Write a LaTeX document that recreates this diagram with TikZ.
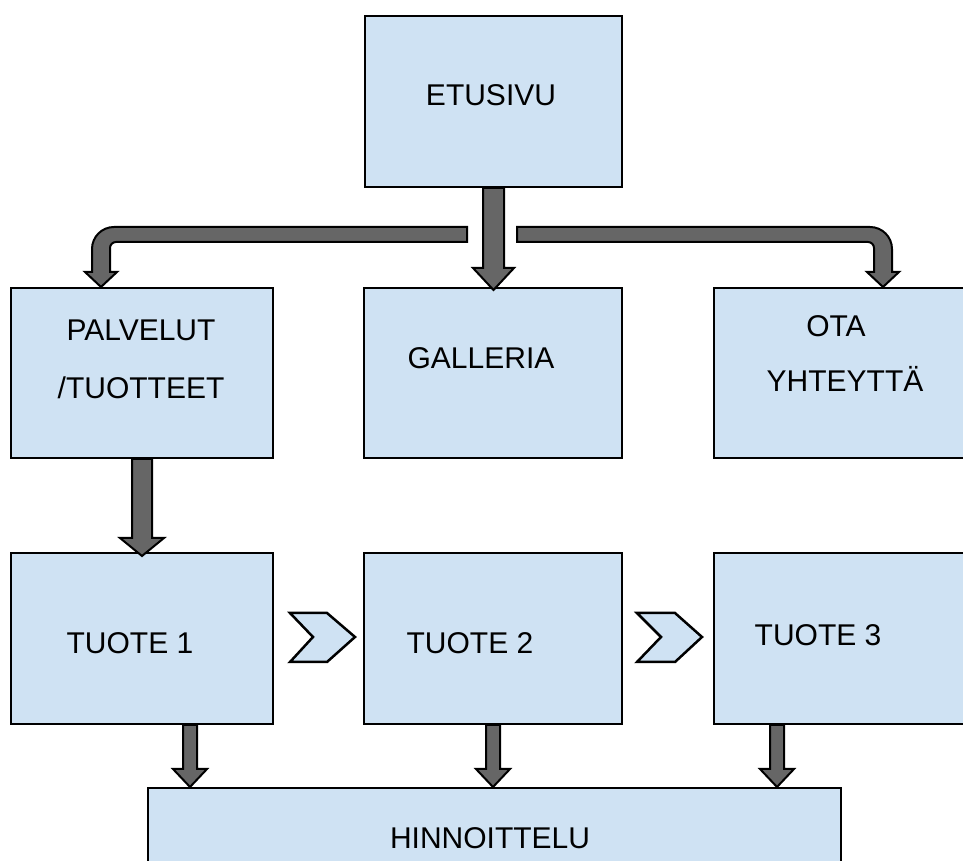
\documentclass[tikz,border=0pt]{standalone}
\usepackage{fontspec}
\setmainfont{Liberation Sans}
\usetikzlibrary{calc}
\definecolor{boxblue}{HTML}{CFE2F3}
\definecolor{arrowgray}{HTML}{666666}

% straight block arrow: #1 top point, #2 tip point, #3 half shaft width,
% #4 half head width, #5 head length, #6 how far the tip reaches past #2
\newcommand\blockDown[6]{%
  \draw[fatarrow] let \p1=(#1), \p2=(#2) in
    (\x1-#3,\y1) -- (\x1-#3,\y2-#6+#5) -- (\x1-#4,\y2-#6+#5) -- (\x1,\y2-#6)
    -- (\x1+#4,\y2-#6+#5) -- (\x1+#3,\y2-#6+#5) -- (\x1+#3,\y1) -- cycle;}

\begin{document}
\begin{tikzpicture}[x=1pt,y=1pt,
  page/.style={draw=black, line width=2pt, fill=boxblue, rectangle,
    inner sep=0pt, anchor=north west},
  caption/.style={font=\fontsize{30}{36}\selectfont, anchor=base, inner sep=0pt},
  fatarrow/.style={draw=black, line width=2pt, fill=arrowgray, line join=miter},
  chevron/.style={draw=black, line width=2.5pt, fill=boxblue, line join=miter}]
\useasboundingbox (0,0) rectangle (963,861);
\clip (0,0) rectangle (963,861);
\fill[white] (0,0) rectangle (963,861);

% pages
\node[page, minimum width=257pt, minimum height=171pt] (etusivu) at (364,846) {};
\node[page, minimum width=262pt, minimum height=170pt] (palvelut) at (10,574) {};
\node[page, minimum width=258pt, minimum height=170pt] (galleria) at (363,574) {};
\node[page, minimum width=267pt, minimum height=170pt] (ota) at (713,574) {};
\node[page, minimum width=262pt, minimum height=171pt] (tuote1) at (10,309) {};
\node[page, minimum width=258pt, minimum height=171pt] (tuote2) at (363,309) {};
\node[page, minimum width=267pt, minimum height=171pt] (tuote3) at (713,309) {};
\node[page, minimum width=693pt, minimum height=110pt] (hinta) at (147,74) {};

% captions
\node[caption] (tEtusivu) at (491,755) {ETUSIVU};
\node[caption] (tPalv1) at (141,520) {PALVELUT};
\node[caption] (tPalv2) at (141,462) {/TUOTTEET};
\node[caption] (tGalleria) at (481,492) {GALLERIA};
\node[caption] (tOta1) at (836,524) {OTA};
\node[caption] (tOta2) at (845,469) {YHTEYTTÄ};
\node[caption] (tTuote1) at (130,207) {TUOTE 1};
\node[caption] (tTuote2) at (470,207) {TUOTE 2};
\node[caption] (tTuote3) at (818,215) {TUOTE 3};
\node[caption] (tHinta) at (490,12) {HINNOITTELU};

% branch ends
\coordinate (lb) at (467,626.5);
\coordinate (rb) at (517,626.5);
\coordinate (lt) at ([xshift=91pt]palvelut.north west);
\coordinate (rt) at ([xshift=170pt]ota.north west);

% etusivu -> galleria
\blockDown{etusivu.south}{galleria.north}{10.5pt}{20.5pt}{22pt}{3pt}

% etusivu -> palvelut (left branch)
\draw[fatarrow] let \p1=(lb), \p2=(lt) in
  (\x1,\y1+7.5pt) -- (\x2+13pt,\y1+7.5pt)
  arc[start angle=90, end angle=180, radius=22pt]
  -- (\x2-9pt,\y2+15pt) -- (\x2-16pt,\y2+15pt) -- (\x2,\y2)
  -- (\x2+16pt,\y2+15pt) -- (\x2+9pt,\y2+15pt) -- (\x2+9pt,\y1-13.5pt)
  arc[start angle=180, end angle=90, radius=6pt]
  -- (\x1,\y1-7.5pt) -- cycle;

% etusivu -> ota yhteyttä (right branch)
\draw[fatarrow] let \p1=(rb), \p2=(rt) in
  (\x1,\y1+7.5pt) -- (\x2-13pt,\y1+7.5pt)
  arc[start angle=90, end angle=0, radius=22pt]
  -- (\x2+9pt,\y2+15pt) -- (\x2+16pt,\y2+15pt) -- (\x2,\y2)
  -- (\x2-16pt,\y2+15pt) -- (\x2-9pt,\y2+15pt) -- (\x2-9pt,\y1-13.5pt)
  arc[start angle=0, end angle=90, radius=6pt]
  -- (\x1,\y1-7.5pt) -- cycle;

% palvelut -> tuote 1
\blockDown{palvelut.south}{tuote1.north}{10pt}{22pt}{18pt}{4pt}

% tuotteet -> hinnoittelu
\coordinate (d1) at ([xshift=180pt]tuote1.south west);
\coordinate (d2) at (tuote2.south);
\coordinate (d3) at ([xshift=64pt]tuote3.south west);
\blockDown{d1}{d1 |- hinta.north}{7pt}{17pt}{18pt}{0pt}
\blockDown{d2}{d2 |- hinta.north}{7pt}{17pt}{18pt}{0pt}
\blockDown{d3}{d3 |- hinta.north}{7pt}{17pt}{18pt}{0pt}

% chevrons between the products
\draw[chevron] (290,248) -- (327,248) -- (355,224) -- (327,199) -- (290,199) -- (313,224) -- cycle;
\draw[chevron] (637,248) -- (675,248) -- (702,224) -- (675,199) -- (637,199) -- (661,224) -- cycle;
\end{tikzpicture}
\end{document}
